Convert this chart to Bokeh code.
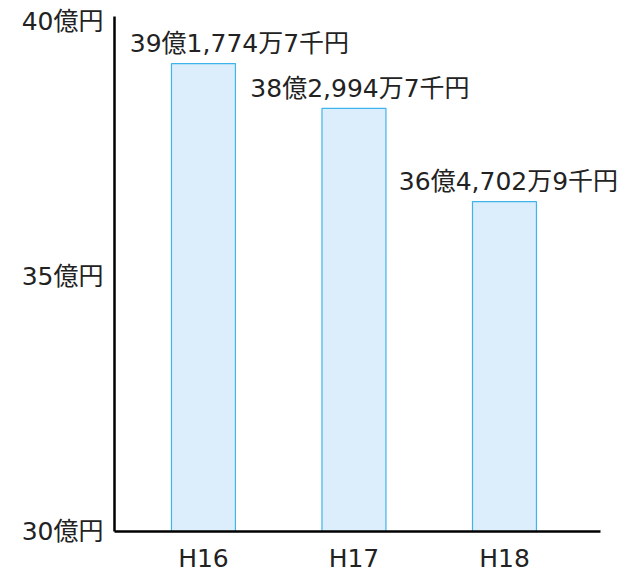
from bokeh.plotting import figure
from bokeh.models import ColumnDataSource, Range1d, FixedTicker
from bokeh.core.properties import value
from bokeh.embed import file_html
from bokeh.resources import INLINE

years = ["H16", "H17", "H18"]
amounts = [39.17747, 38.29947, 36.47029]  # 億円
amount_labels = ["39億1,774万7千円", "38億2,994万7千円", "36億4,702万9千円"]
y_ticks = [30, 35, 40]
y_tick_labels = ["30億円", "35億円", "40億円"]

FONT = "'DejaVu Sans', 'Noto Sans CJK JP', sans-serif"
label_dx = [36, 6, 4]  # style: horizontal nudge of value labels (px)

xpos = [i + 0.5 for i in range(len(years))]  # slot centres of the categories
src = ColumnDataSource(dict(x=xpos, top=amounts, label=amount_labels, dx=label_dx))

p = figure(
    x_range=Range1d(-0.091, 3.324),
    y_range=Range1d(30, 40.1),
    width=635, height=575,
    output_backend="svg", toolbar_location=None,
    min_border_left=114, min_border_right=7, min_border_top=16, min_border_bottom=44,
)
p.outline_line_color = None
p.xgrid.visible = False
p.ygrid.visible = False
p.background_fill_color = "white"
p.border_fill_color = "white"

p.vbar(x="x", top="top", bottom=30, width=0.425, source=src,
       fill_color="#DCEEFB", line_color="#3FB4EC", line_width=1.2)

p.text(x="x", y="top", text="label", source=src, x_offset="dx", y_offset=-20,
       text_align="center", text_baseline="alphabetic",
       text_font=value(FONT), text_font_size="25px", text_color="#222222")

p.xaxis.ticker = FixedTicker(ticks=xpos)
p.xaxis.major_label_overrides = {x: y for x, y in zip(xpos, years)}
p.xaxis.bounds = (-0.091, 3.138)
p.yaxis.ticker = FixedTicker(ticks=y_ticks)
p.yaxis.major_label_overrides = {t: l for t, l in zip(y_ticks, y_tick_labels)}
for ax in (p.xaxis, p.yaxis):
    ax.axis_line_color = "black"
    ax.axis_line_width = 2.5
    ax.major_tick_line_color = None
    ax.minor_tick_line_color = None
    ax.major_tick_out = 0
    ax.major_tick_in = 0
    ax.minor_tick_out = 0
    ax.major_label_text_font = FONT
    ax.major_label_text_color = "#222222"
p.xaxis.major_label_text_font_size = "25px"
p.yaxis.major_label_text_font_size = "25px"
p.yaxis.major_label_standoff = 11
p.xaxis.major_label_standoff = 12

open("out.html", "w").write(file_html(p, INLINE))
